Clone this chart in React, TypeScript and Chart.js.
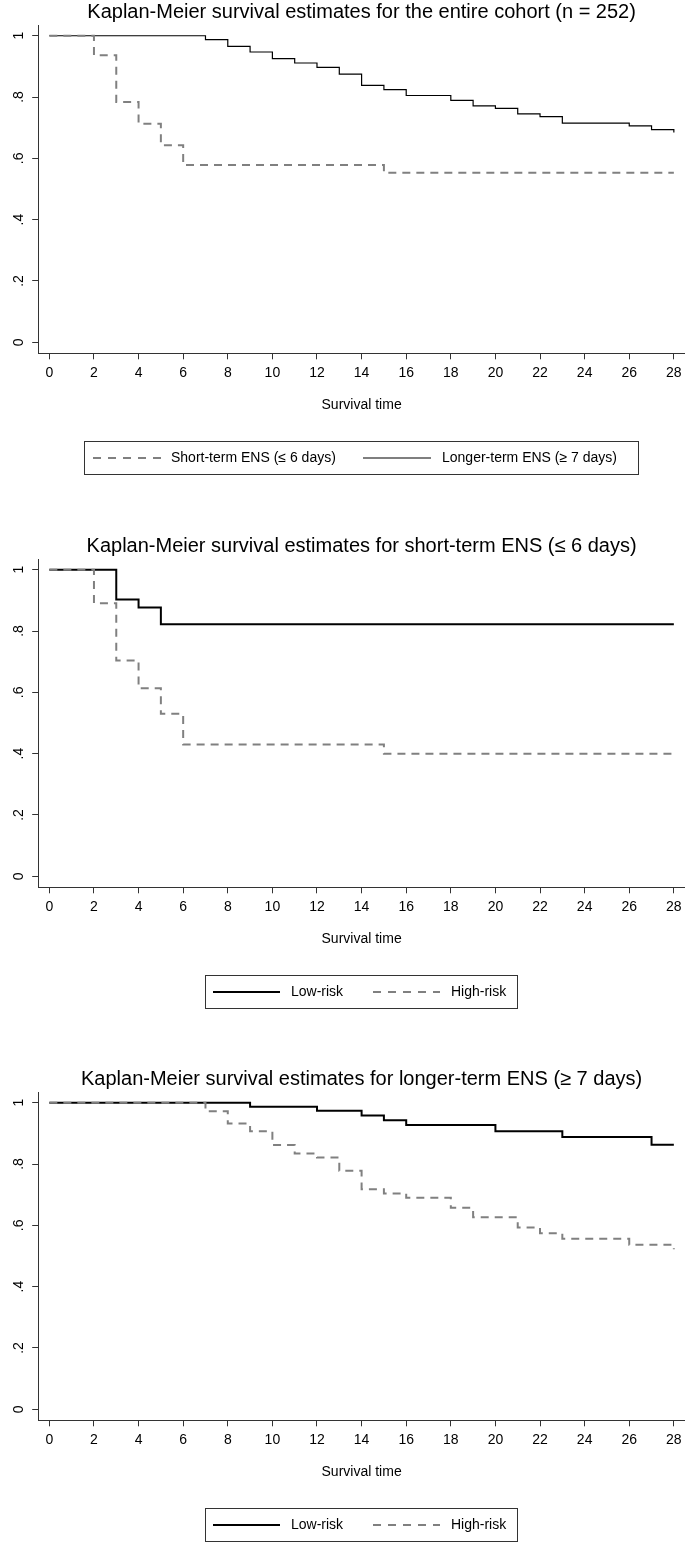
import React, { useEffect, useRef } from "react";
import { Chart, registerables } from "chart.js";

Chart.register(...registerables);

const FONT = "'Liberation Sans', Arial, Helvetica, sans-serif";

// ---- axes ----
const xTicks = [0, 2, 4, 6, 8, 10, 12, 14, 16, 18, 20, 22, 24, 26, 28];
const yTicks = [0, 0.2, 0.4, 0.6, 0.8, 1];
const yTickLabels = ["0", ".2", ".4", ".6", ".8", "1"];
const xAxisTitle = "Survival time";

// ---- panel titles ----
const panelTitles = [
  "Kaplan-Meier survival estimates for the entire cohort (n = 252)",
  "Kaplan-Meier survival estimates for short-term ENS (\u2264 6 days)",
  "Kaplan-Meier survival estimates for longer-term ENS (\u2265 7 days)",
];

// ---- panel 1: entire cohort ----
const p1ShortLabel = "Short-term ENS (\u2264 6 days)";
const p1ShortTimes = [0, 2, 3, 4, 5, 6, 15, 28];
const p1ShortSurv = [1, 0.936, 0.784, 0.713, 0.643, 0.578, 0.553, 0.553];
const p1LongLabel = "Longer-term ENS (\u2265 7 days)";
const p1LongTimes = [0, 7, 8, 9, 10, 11, 12, 13, 14, 15, 16, 18, 19, 20, 21, 22, 23, 26, 27, 28];
const p1LongSurv = [1, 0.987, 0.965, 0.947, 0.925, 0.911, 0.897, 0.875, 0.838, 0.824, 0.805, 0.789, 0.771, 0.763, 0.745, 0.736, 0.715, 0.706, 0.694, 0.684];

// ---- panel 2: short-term ENS ----
const p2LowLabel = "Low-risk";
const p2LowTimes = [0, 3, 4, 5, 28];
const p2LowSurv = [1, 0.903, 0.877, 0.822, 0.822];
const p2HighLabel = "High-risk";
const p2HighTimes = [0, 2, 3, 4, 5, 6, 15, 28];
const p2HighSurv = [1, 0.891, 0.704, 0.613, 0.53, 0.43, 0.4, 0.4];

// ---- panel 3: longer-term ENS ----
const p3LowLabel = "Low-risk";
const p3LowTimes = [0, 9, 12, 14, 15, 16, 20, 23, 27, 28];
const p3LowSurv = [1, 0.987, 0.974, 0.958, 0.943, 0.927, 0.907, 0.888, 0.863, 0.863];
const p3HighLabel = "High-risk";
const p3HighTimes = [0, 7, 8, 9, 10, 11, 12, 13, 14, 15, 16, 18, 19, 21, 22, 23, 26, 28];
const p3HighSurv = [1, 0.972, 0.932, 0.907, 0.862, 0.834, 0.821, 0.778, 0.718, 0.704, 0.69, 0.657, 0.626, 0.593, 0.574, 0.556, 0.537, 0.522];

// ---- styles ----
const DASH_COLOR = "#808080";
const SOLID_COLOR = "#000000";
const AXIS_COLOR = "#333333";

type Series = {
  label: string;
  times: number[];
  surv: number[];
  color: string;
  width: number;
  dash: number[];
};

type LegendItem = { series: number; x0: number; x1: number; textX: number; dash: number[] };
type LegendCfg = { left: number; right: number; top: number; bottom: number; y: number; items: LegendItem[] };

const CHART_BOTTOM = 353.3;
const X_SCALE_H = 60.6;

function KMPanel(props: { top: number; height: number; title: string; series: Series[]; legend: LegendCfg }) {
  const ref = useRef<HTMLCanvasElement | null>(null);
  const { top, height, title, series, legend } = props;

  useEffect(() => {
    if (!ref.current) return;
    const tickFont = { family: FONT, size: 14, weight: "normal" as const };

    const legendPlugin = {
      id: "kmLegend",
      afterDraw(chart: any) {
        const ctx = chart.ctx as CanvasRenderingContext2D;
        ctx.save();
        ctx.setLineDash([]);
        ctx.strokeStyle = AXIS_COLOR;
        ctx.lineWidth = 1;
        ctx.strokeRect(legend.left, legend.top, legend.right - legend.left, legend.bottom - legend.top);
        ctx.font = `14px ${FONT}`;
        ctx.textBaseline = "middle";
        ctx.textAlign = "left";
        for (const it of legend.items) {
          const s = series[it.series];
          ctx.beginPath();
          ctx.strokeStyle = s.color;
          ctx.lineWidth = s.width;
          ctx.setLineDash(it.dash);
          ctx.moveTo(it.x0, legend.y);
          ctx.lineTo(it.x1, legend.y);
          ctx.stroke();
          ctx.setLineDash([]);
          ctx.fillStyle = "#000";
          ctx.fillText(s.label, it.textX, legend.y);
        }
        ctx.restore();
      },
    };

    const chart = new Chart(ref.current, {
      type: "line",
      data: {
        datasets: series.map((s) => ({
          label: s.label,
          data: s.times.map((t, i) => ({ x: t, y: s.surv[i] })),
          stepped: true,
          borderColor: s.color,
          borderWidth: s.width,
          borderDash: s.dash,
          pointRadius: 0,
          pointHoverRadius: 0,
          fill: false,
          tension: 0,
        })),
      },
      options: {
        animation: false,
        responsive: false,
        devicePixelRatio: 1,
        events: [],
        layout: { padding: { top: 0, left: 0, right: 0, bottom: height - CHART_BOTTOM - X_SCALE_H } },
        plugins: {
          legend: { display: false },
          tooltip: { enabled: false },
          title: {
            display: true,
            text: title,
            fullSize: false,
            color: "#000",
            font: { family: FONT, size: 20, weight: "normal" },
            padding: { top: 0.5, bottom: 0.5 },
          },
        },
        scales: {
          x: {
            type: "linear",
            min: -0.5,
            max: 28.5,
            afterBuildTicks: (sc: any) => {
              sc.ticks = xTicks.map((v) => ({ value: v }));
            },
            afterFit: (sc: any) => {
              sc.height = X_SCALE_H;
              sc.paddingLeft = 0;
              sc.paddingRight = 0;
            },
            ticks: {
              font: tickFont,
              color: "#000",
              padding: 5.5,
              minRotation: 0,
              maxRotation: 0,
              autoSkip: false,
              callback: (v: any) => String(v),
            },
            grid: { display: true, drawOnChartArea: false, drawTicks: true, tickLength: 6, color: AXIS_COLOR, lineWidth: 1 },
            border: { display: true, color: AXIS_COLOR, width: 1 },
            title: { display: true, text: xAxisTitle, color: "#000", font: tickFont, padding: 0 },
          },
          y: {
            type: "linear",
            min: -0.036,
            max: 1.035,
            afterBuildTicks: (sc: any) => {
              sc.ticks = yTicks.map((v) => ({ value: v }));
            },
            afterFit: (sc: any) => {
              sc.width = 38.2;
              sc.paddingTop = 0;
              sc.paddingBottom = 0;
            },
            ticks: {
              font: tickFont,
              color: "#000",
              padding: 7,
              minRotation: 90,
              maxRotation: 90,
              crossAlign: "center",
              autoSkip: false,
              callback: (v: any) => {
                const idx = yTicks.indexOf(Number(v));
                return idx >= 0 ? yTickLabels[idx] : "";
              },
            },
            grid: { display: true, drawOnChartArea: false, drawTicks: true, tickLength: 6, color: AXIS_COLOR, lineWidth: 1 },
            border: { display: true, color: AXIS_COLOR, width: 1 },
          },
        },
      } as any,
      plugins: [legendPlugin],
    });
    return () => chart.destroy();
  }, []);

  return (
    <canvas
      ref={ref}
      width={685}
      height={height}
      style={{ position: "absolute", left: 0, top, display: "block" }}
    />
  );
}

const CHART_DASH = [8, 6];
const LEGEND_DASH = [8, 7];

const panel1Series: Series[] = [
  { label: p1ShortLabel, times: p1ShortTimes, surv: p1ShortSurv, color: DASH_COLOR, width: 2, dash: CHART_DASH },
  { label: p1LongLabel, times: p1LongTimes, surv: p1LongSurv, color: SOLID_COLOR, width: 1.2, dash: [] },
];
const panel2Series: Series[] = [
  { label: p2HighLabel, times: p2HighTimes, surv: p2HighSurv, color: DASH_COLOR, width: 2, dash: CHART_DASH },
  { label: p2LowLabel, times: p2LowTimes, surv: p2LowSurv, color: SOLID_COLOR, width: 2, dash: [] },
];
const panel3Series: Series[] = [
  { label: p3HighLabel, times: p3HighTimes, surv: p3HighSurv, color: DASH_COLOR, width: 2, dash: CHART_DASH },
  { label: p3LowLabel, times: p3LowTimes, surv: p3LowSurv, color: SOLID_COLOR, width: 2, dash: [] },
];

const legend1: LegendCfg = {
  left: 84.5, right: 638.5, top: 441.5, bottom: 474.5, y: 458,
  items: [
    { series: 0, x0: 93, x1: 161, textX: 171, dash: LEGEND_DASH },
    { series: 1, x0: 363, x1: 431, textX: 442, dash: [] },
  ],
};
const legendRisk: LegendCfg = {
  left: 205.5, right: 517.5, top: 441.5, bottom: 474.5, y: 458,
  items: [
    { series: 1, x0: 213, x1: 280, textX: 291, dash: [] },
    { series: 0, x0: 373, x1: 440, textX: 451, dash: LEGEND_DASH },
  ],
};

export default function App() {
  return (
    <div
      style={{
        position: "absolute",
        left: 0,
        top: 0,
        width: 685,
        height: 1542,
        overflow: "hidden",
        background: "#fff",
      }}
    >
      <KMPanel top={0} height={534} title={panelTitles[0]} series={panel1Series} legend={legend1} />
      <KMPanel top={534} height={533} title={panelTitles[1]} series={panel2Series} legend={legendRisk} />
      <KMPanel top={1067} height={475} title={panelTitles[2]} series={panel3Series} legend={legendRisk} />
    </div>
  );
}
